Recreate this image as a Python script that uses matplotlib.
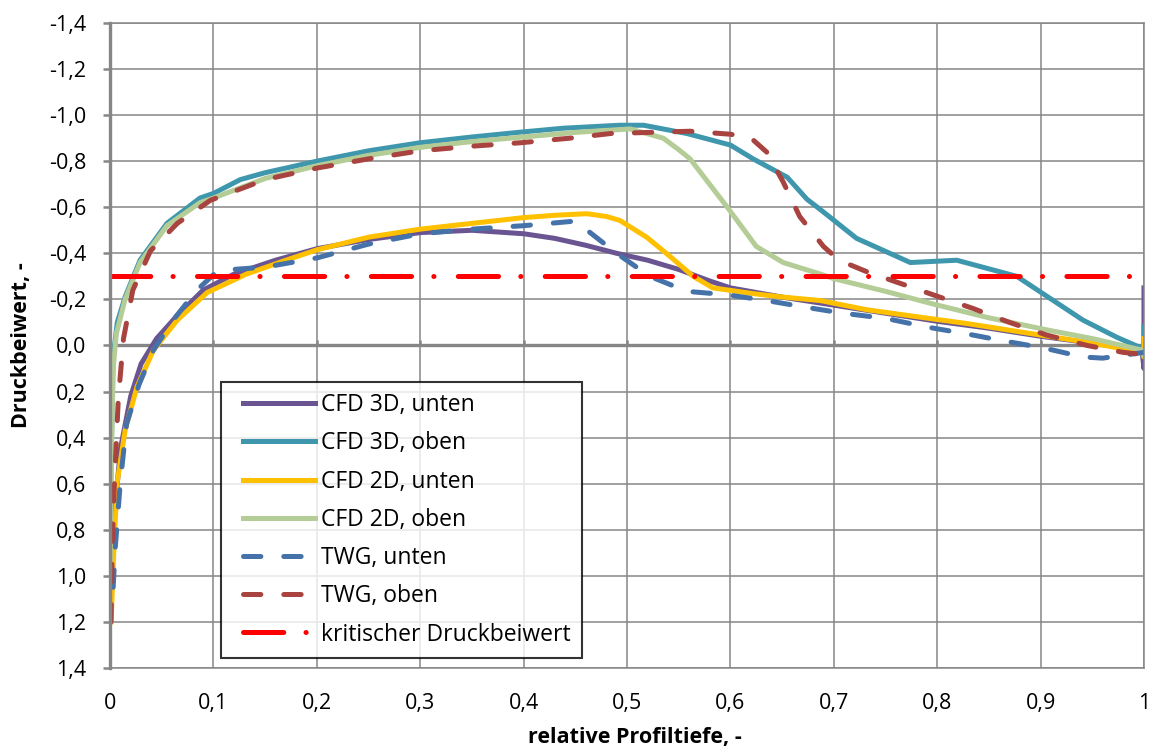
import numpy as np
import matplotlib
matplotlib.use('Agg')
import matplotlib.pyplot as plt
from matplotlib.ticker import FuncFormatter

plt.rcParams['font.family'] = ['Open Sans', 'DejaVu Sans']
plt.rcParams['lines.scale_dashes'] = False

# pressure coefficient over relative chord, read per surface
cfd3d_unten_x = [0.0, 0.002, 0.005, 0.01, 0.02, 0.03, 0.045, 0.065, 0.09, 0.12, 0.16, 0.2, 0.25, 0.3, 0.35,
                 0.4, 0.43, 0.46, 0.49, 0.52, 0.55, 0.58, 0.6, 0.65, 0.7, 0.75, 0.8, 0.85, 0.9, 0.95, 0.998, 1.0, 1.0]
cfd3d_unten_y = [1.15, 0.95, 0.7, 0.45, 0.22, 0.08, -0.03, -0.13, -0.24, -0.31, -0.37, -0.42, -0.46, -0.49, -0.50,
                 -0.485, -0.465, -0.435, -0.40, -0.37, -0.33, -0.28, -0.25, -0.21, -0.175, -0.14, -0.105, -0.075, -0.04, -0.01, 0.02, 0.10, -0.25]

cfd3d_oben_x = [0.0, 0.001, 0.003, 0.007, 0.0145, 0.029, 0.055, 0.087, 0.1, 0.126, 0.15, 0.2, 0.25, 0.3, 0.35, 0.397,
                0.438, 0.493, 0.516, 0.558, 0.6, 0.622, 0.655, 0.674, 0.687, 0.722, 0.774, 0.819, 0.877, 0.909, 0.941,
                0.974, 0.997, 1.0, 1.0]
cfd3d_oben_y = [0.95, 0.5, 0.05, -0.1, -0.21, -0.37, -0.53, -0.64, -0.66, -0.72, -0.75, -0.80, -0.845, -0.88, -0.905, -0.926,
                -0.943, -0.956, -0.956, -0.92, -0.87, -0.81, -0.73, -0.635, -0.59, -0.465, -0.36, -0.37, -0.30, -0.205, -0.11,
                -0.035, 0.01, 0.05, -0.08]

cfd2d_unten_x = [0.001, 0.004, 0.007, 0.0145, 0.026, 0.042, 0.065, 0.094, 0.132, 0.17, 0.2, 0.25, 0.3, 0.35, 0.4, 0.43,
                 0.461, 0.48, 0.493, 0.519, 0.542, 0.564, 0.583, 0.622, 0.651, 0.687, 0.732, 0.78, 0.829, 0.893, 0.95,
                 0.998, 1.0, 1.0]
cfd2d_unten_y = [1.2, 0.85, 0.59, 0.37, 0.18, 0.02, -0.11, -0.23, -0.31, -0.37, -0.415, -0.47, -0.505, -0.53, -0.555, -0.565,
                 -0.572, -0.56, -0.543, -0.47, -0.385, -0.30, -0.25, -0.225, -0.21, -0.195, -0.155, -0.125, -0.095, -0.05, -0.01,
                 0.03, 0.05, -0.03]

cfd2d_oben_x = [0.0, 0.001, 0.003, 0.006, 0.0145, 0.029, 0.055, 0.087, 0.1, 0.15, 0.2, 0.25, 0.3, 0.35, 0.4, 0.45, 0.503,
                0.535, 0.55, 0.561, 0.597, 0.625, 0.651, 0.687, 0.7, 0.75, 0.796, 0.85, 0.909, 0.95, 0.998, 1.0]
cfd2d_oben_y = [1.0, 0.55, 0.1, -0.05, -0.2, -0.36, -0.52, -0.62, -0.64, -0.725, -0.78, -0.825, -0.86, -0.885, -0.905, -0.925,
                -0.94, -0.90, -0.85, -0.81, -0.60, -0.43, -0.36, -0.31, -0.29, -0.235, -0.18, -0.12, -0.065, -0.03, 0.02, 0.04]

twg_unten_x = [0.003, 0.005, 0.01, 0.016, 0.028, 0.042, 0.061, 0.084, 0.103, 0.119, 0.15, 0.2, 0.25, 0.3, 0.35, 0.4, 0.45,
               0.49, 0.522, 0.558, 0.597, 0.635, 0.674, 0.709, 0.751, 0.79, 0.829, 0.864, 0.902, 0.941, 0.96, 1.0]
twg_unten_y = [1.05, 0.88, 0.59, 0.34, 0.17, 0.02, -0.11, -0.24, -0.32, -0.33, -0.34, -0.38, -0.44, -0.485, -0.505, -0.52, -0.54,
               -0.40, -0.30, -0.235, -0.22, -0.195, -0.165, -0.14, -0.117, -0.08, -0.05, -0.02, 0.01, 0.05, 0.055, 0.03]

twg_oben_x = [0.001, 0.002, 0.004, 0.008, 0.013, 0.022, 0.039, 0.065, 0.097, 0.15, 0.2, 0.25, 0.3, 0.35, 0.397, 0.445, 0.484,
              0.522, 0.561, 0.6, 0.62, 0.635, 0.651, 0.667, 0.69, 0.705, 0.732, 0.764, 0.796, 0.835, 0.87, 0.906, 0.945,
              0.98, 1.0]
twg_oben_y = [1.2, 0.88, 0.62, 0.23, -0.03, -0.24, -0.41, -0.53, -0.63, -0.72, -0.77, -0.81, -0.845, -0.865, -0.88, -0.90, -0.92,
              -0.925, -0.93, -0.917, -0.90, -0.84, -0.71, -0.56, -0.43, -0.37, -0.32, -0.27, -0.22, -0.16, -0.10, -0.045, 0.0,
              0.03, 0.04]

krit_x = [0.0, 1.0]
krit_y = [-0.3, -0.3]

x_ticks = [0.0, 0.1, 0.2, 0.3, 0.4, 0.5, 0.6, 0.7, 0.8, 0.9, 1.0]
y_ticks = np.round(np.arange(-1.4, 1.41, 0.2), 1)


def fmt_y(v, pos):
    v = round(v, 1)
    if v == 0:
        return '0,0'
    return ('%.1f' % v).replace('.', ',')


def fmt_x(v, pos):
    return ('%g' % round(v, 1)).replace('.', ',')


grey = '#868686'
fs = 15.5

fig = plt.figure(figsize=(11.56, 7.48), dpi=100)
ax = fig.add_axes([0.0952, 0.1070, 0.8944, 0.8623])

lw = 3.6
ax.plot(cfd3d_unten_x, cfd3d_unten_y, color='#6a5592', lw=lw, label='CFD 3D, unten', solid_joinstyle='round')
ax.plot(cfd3d_oben_x, cfd3d_oben_y, color='#3f97ae', lw=lw, label='CFD 3D, oben', solid_joinstyle='round')
ax.plot(cfd2d_unten_x, cfd2d_unten_y, color='#ffc000', lw=lw, label='CFD 2D, unten', solid_joinstyle='round')
ax.plot(cfd2d_oben_x, cfd2d_oben_y, color='#b4cc95', lw=lw, label='CFD 2D, oben', solid_joinstyle='round')
ax.plot(twg_unten_x, twg_unten_y, color='#4572a8', lw=lw, label='TWG, unten',
        dashes=(12.5, 16.5), dash_capstyle='round')
ax.plot(twg_oben_x, twg_oben_y, color='#a8433f', lw=lw, label='TWG, oben',
        dashes=(12.5, 16.5), dash_capstyle='round')
ax.plot(krit_x, krit_y, color='#ff0000', lw=lw, label='kritischer Druckbeiwert',
        dashes=(29, 16, 0.1, 17.5), dash_capstyle='round')

ax.set_xlim(0, 1)
ax.set_ylim(1.4, -1.4)
ax.set_xticks(x_ticks)
ax.set_yticks(y_ticks)
ax.xaxis.set_major_formatter(FuncFormatter(fmt_x))
ax.yaxis.set_major_formatter(FuncFormatter(fmt_y))
ax.grid(True, color=grey, lw=1.1)
ax.set_axisbelow(True)

for s in ['top', 'right', 'bottom']:
    ax.spines[s].set_color(grey)
    ax.spines[s].set_linewidth(1.1)
ax.spines['left'].set_color(grey)
ax.spines['left'].set_linewidth(2.4)

ax.tick_params(axis='x', length=0, pad=18, labelsize=fs)
ax.tick_params(axis='y', length=5, width=1.8, color=grey, pad=12, labelsize=fs)

# horizontal axis crossing at zero with its small tick marks
ax.axhline(0, color=grey, lw=2.4, zorder=1.5)
ax.vlines(x_ticks[1:], 0, -0.025, color=grey, lw=1.8, zorder=1.5)

leg = ax.legend(loc='lower left', bbox_to_anchor=(0.107, 0.0155), borderaxespad=0,
                fancybox=False, frameon=True, edgecolor='black', fontsize=16.5,
                handlelength=3.6, handletextpad=0.26, borderpad=0.5, labelspacing=0.62)
leg.get_frame().set_linewidth(1.5)
# start the legend sample lines a little further in from the frame
for line in leg.get_lines():
    xd = np.asarray(line.get_xdata(), dtype=float)
    line.set_xdata(np.linspace(xd[0] + 8.0, xd[-1], len(xd)))

fig.text(0.549, 0.0147, 'relative Profiltiefe, -', ha='center', va='center', fontsize=fs, fontweight='bold')
fig.text(0.019, 0.539, 'Druckbeiwert, -', ha='center', va='center', rotation=90, fontsize=fs, fontweight='bold')

fig.savefig('out.png', dpi=100)
